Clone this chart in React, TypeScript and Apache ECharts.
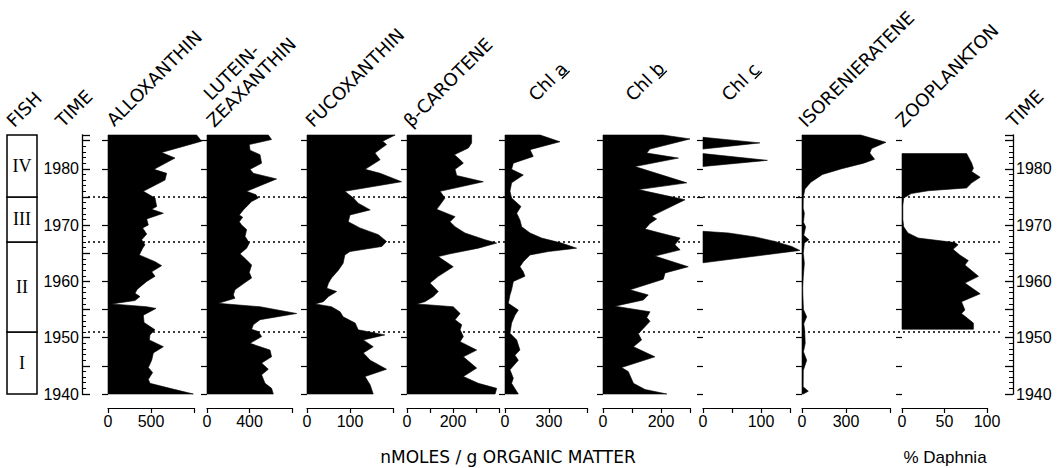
import React, { useEffect, useRef } from 'react';
import * as echarts from 'echarts';

// ---------------- data ----------------
const yearMin = 1940;
const yearMax = 1986;
const fishPeriodBounds = [1940, 1951, 1967, 1975, 1986];
const fishPeriodLabels = ['I', 'II', 'III', 'IV'];
const zoneDividerYears = [1975, 1967, 1951];
const timeTickLabels = [1940, 1950, 1960, 1970, 1980];
const panelTickYears = [1940, 1945, 1950, 1955, 1960, 1965, 1970, 1975, 1980, 1985];

const columnTitles = ['FISH', 'TIME', 'ALLOXANTHIN', 'LUTEIN-', 'ZEAXANTHIN', 'FUCOXANTHIN', 'β-CAROTENE', 'Chl a', 'Chl b', 'Chl c', 'ISORENIERATENE', 'ZOOPLANKTON', 'TIME'];
const pigmentUnitTitle = 'nMOLES / g ORGANIC MATTER';
const zooUnitTitle = '% Daphnia';

// [year, value]
const alloxanthin = [
  [1986.0, 1031], [1984.9, 1089], [1982.9, 624], [1981.9, 779], [1979.9, 535], [1979.2, 682], [1978.0, 663],
  [1976.0, 411], [1974.8, 547], [1973.3, 566], [1972.8, 508], [1972.1, 644], [1971.1, 450], [1970.0, 469],
  [1969.5, 403], [1968.4, 450], [1967.4, 392], [1966.5, 430], [1965.9, 403], [1964.7, 364], [1963.5, 547],
  [1962.8, 624], [1961.7, 508], [1960.9, 547], [1960.0, 450], [1958.6, 341], [1957.9, 314], [1957.3, 372],
  [1956.6, 314], [1956.0, 43], [1955.5, 450], [1955.2, 558], [1954.0, 411], [1952.7, 419], [1951.4, 547],
  [1950.5, 488], [1949.6, 481], [1948.4, 644], [1947.3, 527], [1946.0, 508], [1944.7, 469], [1943.8, 519],
  [1942.6, 469], [1941.9, 488], [1941.0, 721], [1940.0, 992],
];
const luteinZeaxanthin = [
  [1986.0, 577], [1985.2, 608], [1984.3, 398], [1983.3, 405], [1982.5, 499], [1981.0, 514], [1979.9, 405],
  [1979.2, 436], [1978.2, 655], [1976.0, 373], [1975.4, 461], [1974.8, 483], [1974.2, 420], [1972.7, 342],
  [1971.8, 304], [1971.4, 336], [1970.6, 304], [1970.0, 326], [1969.2, 373], [1968.0, 358], [1966.8, 398],
  [1965.9, 373], [1964.9, 311], [1963.8, 373], [1962.9, 420], [1961.6, 398], [1960.6, 420], [1959.8, 358],
  [1958.5, 263], [1957.6, 248], [1957.0, 263], [1956.1, 107], [1955.5, 499], [1954.3, 844], [1953.2, 499],
  [1952.3, 436], [1951.5, 420], [1951.1, 483], [1950.2, 514], [1949.0, 405], [1947.8, 593], [1946.6, 608],
  [1945.5, 514], [1944.4, 577], [1943.4, 514], [1941.9, 546], [1941.0, 608], [1940.0, 624],
];
const fucoxanthin = [
  [1986.0, 205], [1984.9, 176], [1984.3, 185], [1982.8, 158], [1981.6, 170], [1979.9, 135], [1979.2, 170],
  [1977.7, 220], [1976.0, 88], [1974.8, 108], [1973.9, 119], [1972.7, 147], [1971.8, 100], [1970.6, 96],
  [1969.5, 123], [1968.3, 166], [1967.1, 185], [1966.2, 174], [1965.3, 100], [1964.7, 88], [1963.2, 84],
  [1962.0, 73], [1960.6, 57], [1959.7, 50], [1958.8, 46], [1958.2, 69], [1957.3, 50], [1956.4, 38],
  [1956.0, 19], [1955.5, 57], [1954.6, 77], [1953.7, 84], [1952.6, 112], [1951.4, 119], [1950.5, 181],
  [1949.6, 131], [1948.4, 154], [1947.3, 131], [1946.0, 147], [1944.4, 185], [1943.1, 135], [1941.6, 147],
  [1940.0, 154],
];
const betaCarotene = [
  [1986.0, 281], [1984.6, 281], [1983.7, 267], [1982.5, 206], [1981.6, 231], [1981.0, 245], [1979.9, 209],
  [1978.8, 216], [1977.7, 332], [1976.0, 144], [1974.8, 165], [1973.6, 144], [1972.8, 129], [1971.5, 209],
  [1970.6, 187], [1969.7, 209], [1968.6, 252], [1967.4, 339], [1966.8, 390], [1965.9, 310], [1964.9, 187],
  [1964.4, 136], [1962.6, 201], [1960.9, 136], [1959.7, 100], [1958.2, 136], [1957.3, 114], [1956.4, 78],
  [1956.0, 42], [1955.5, 201], [1954.3, 231], [1953.2, 209], [1952.3, 238], [1951.4, 231], [1950.2, 245],
  [1949.3, 231], [1947.8, 303], [1946.6, 245], [1944.6, 303], [1943.1, 245], [1941.9, 310], [1941.0, 390],
  [1940.0, 383],
];
const chlA = [
  [1986.0, 240], [1984.8, 375], [1983.4, 171], [1982.2, 193], [1981.0, 57], [1979.9, 45], [1978.9, 125],
  [1977.5, 45], [1976.0, 34], [1974.8, 45], [1973.3, 109], [1972.1, 80], [1970.9, 102], [1969.7, 114],
  [1968.6, 171], [1967.7, 250], [1966.8, 386], [1965.9, 489], [1965.3, 296], [1964.7, 171], [1963.5, 125],
  [1962.6, 102], [1961.7, 125], [1960.9, 136], [1960.0, 57], [1958.5, 45], [1957.6, 34], [1956.1, 23],
  [1954.9, 91], [1954.0, 68], [1952.6, 45], [1950.8, 34], [1949.6, 80], [1947.8, 102], [1946.9, 68],
  [1946.0, 91], [1944.3, 34], [1942.8, 57], [1941.9, 45], [1940.0, 91],
];
const chlB = [
  [1986.0, 207], [1985.3, 300], [1983.5, 162], [1982.8, 151], [1981.9, 260], [1980.4, 110], [1977.5, 289],
  [1976.3, 122], [1974.5, 283], [1971.6, 168], [1971.1, 185], [1970.3, 162], [1969.3, 145], [1968.6, 197],
  [1967.7, 266], [1966.5, 248], [1965.6, 266], [1964.5, 179], [1962.6, 294], [1961.5, 214], [1960.4, 208],
  [1958.5, 93], [1957.6, 156], [1956.7, 139], [1955.6, 41], [1954.6, 162], [1953.6, 151], [1952.9, 162],
  [1950.7, 122], [1949.6, 133], [1948.4, 105], [1946.6, 179], [1944.7, 64], [1944.0, 87], [1941.9, 105],
  [1940.8, 145], [1940.0, 220],
];
const chlC1 = [[1985.6, 0], [1984.6, 98], [1983.5, 0]];
const chlC2 = [[1982.7, 0], [1981.5, 111], [1980.4, 0]];
const chlC3 = [[1968.9, 0], [1968.6, 44], [1967.9, 90], [1967.1, 124], [1966.2, 153], [1965.5, 167], [1963.3, 0]];
const isorenieratene = [
  [1986.0, 400], [1984.7, 572], [1983.6, 475], [1982.8, 462], [1981.7, 495], [1981.0, 420], [1980.0, 270],
  [1979.0, 140], [1977.6, 60], [1976.4, 20], [1975.0, 9], [1973.0, 8], [1972.1, 16], [1970.5, 10],
  [1969.7, 25], [1968.2, 12], [1967.4, 47], [1966.8, 16], [1965.0, 9], [1963.2, 16], [1960.9, 9],
  [1959.0, 5], [1957.5, 6], [1955.0, 10], [1953.7, 32], [1952.5, 12], [1951.4, 18], [1949.0, 22],
  [1947.5, 10], [1946.0, 32], [1944.2, 9], [1941.3, 8], [1940.5, 43], [1940.0, 9],
];
const zooplanktonDaphnia = [
  [1982.7, 76], [1981.0, 82], [1980.1, 84], [1979.5, 82], [1978.5, 92], [1977.5, 82], [1976.6, 76],
  [1976.1, 31], [1975.6, 11], [1974.8, 2], [1973.5, 1], [1971.0, 1], [1969.7, 2], [1968.6, 7], [1967.7, 19],
  [1966.9, 62], [1966.5, 66], [1965.7, 60], [1964.7, 68], [1963.7, 78], [1962.9, 74], [1960.9, 90],
  [1959.7, 74], [1957.8, 92], [1956.4, 70], [1954.9, 74], [1954.3, 70], [1952.6, 84], [1951.5, 84],
];

const panelProfiles = [
  [alloxanthin], [luteinZeaxanthin], [fucoxanthin], [betaCarotene], [chlA], [chlB],
  [chlC1, chlC2, chlC3], [isorenieratene], [zooplanktonDaphnia],
];
const panelAxisMax = [1000, 800, 200, 400, 560, 300, 150, 600, 100];
const panelTickStep = [500, 400, 100, 100, 300, 100, 50, 300, 50];
const panelTickLabels = [[0, 500], [0, 400], [0, 100], [0, 200], [0, 300], [0, 200], [0, 100], [0, 300], [0, 50, 100]];

// ---------------- layout (pixels) ----------------
const PLOT_TOP = 135;
const PLOT_H = 259;
const panelLeft = [108, 207, 307, 407, 505, 603, 703, 802, 902];
const panelWidth = [86, 85, 86, 92, 82, 87, 87, 88, 85];
const titlePos = [
  [16, 130], [65, 130], [116, 129], [213, 103], [216, 130], [315, 130], [413, 130],
  [538, 104], [635, 104], [731, 104], [808, 130], [905, 130], [1016, 130],
];
const underlineChar: Record<string, number[]> = {
  'Chl a': [34.7, 11],
  'Chl b': [34.7, 11.4],
  'Chl c': [34.7, 9.9],
};

const NUM_FONT = 'Liberation Sans';
const HEAD_FONT = 'DejaVu Sans';
const BLACK = '#000';

function buildOption() {
  const grid: any[] = [];
  const xAxis: any[] = [];
  const yAxis: any[] = [];
  const series: any[] = [];

  const hiddenY = (gi: number) => ({ gridIndex: gi, type: 'value', min: yearMin, max: yearMax, show: false });
  const hiddenX = (gi: number) => ({ gridIndex: gi, type: 'value', min: 0, max: 1, show: false });

  // 0: zone divider dotted lines
  grid.push({ left: 88, top: PLOT_TOP, width: 915, height: PLOT_H });
  xAxis.push(hiddenX(0));
  yAxis.push(hiddenY(0));
  series.push({
    type: 'custom', xAxisIndex: 0, yAxisIndex: 0, silent: true, z: 1,
    data: zoneDividerYears.map((y) => [0, y]),
    encode: { x: 0, y: 1 },
    renderItem: (_p: any, api: any) => {
      const y = api.value(1);
      const a = api.coord([0, y]);
      const b = api.coord([1, y]);
      return {
        type: 'line',
        shape: { x1: a[0], y1: a[1], x2: b[0], y2: b[1] },
        style: { stroke: BLACK, lineWidth: 1.6, lineDash: [2, 3] },
      };
    },
  });

  // 1: fish periods
  grid.push({ left: 7, top: PLOT_TOP, width: 30, height: PLOT_H });
  xAxis.push(hiddenX(1));
  yAxis.push(hiddenY(1));
  series.push({
    type: 'custom', xAxisIndex: 1, yAxisIndex: 1, silent: true, z: 2, clip: false,
    data: fishPeriodLabels.map((_, i) => [0, fishPeriodBounds[i], fishPeriodBounds[i + 1]]),
    encode: { x: 0, y: [1, 2] },
    renderItem: (params: any, api: any) => {
      const tl = api.coord([0, api.value(2)]);
      const br = api.coord([1, api.value(1)]);
      return {
        type: 'group',
        children: [
          {
            type: 'rect',
            shape: { x: tl[0], y: tl[1], width: br[0] - tl[0], height: br[1] - tl[1] },
            style: { fill: '#fff', stroke: BLACK, lineWidth: 1.5 },
          },
          {
            type: 'text',
            style: {
              text: fishPeriodLabels[params.dataIndex],
              x: (tl[0] + br[0]) / 2, y: (tl[1] + br[1]) / 2,
              textAlign: 'center', textVerticalAlign: 'middle', align: 'center', verticalAlign: 'middle',
              fontSize: 18, fontFamily: 'Liberation Serif', fill: BLACK,
            },
          },
        ],
      };
    },
  });

  // 2 & 3: time axes
  const timeAxis = (gi: number, pos: string) => ({
    gridIndex: gi, type: 'value', min: yearMin, max: yearMax, interval: 5, position: pos,
    axisLine: { show: true, onZero: false, lineStyle: { color: BLACK, width: 1.3 } },
    axisTick: { show: true, inside: true, length: 8, lineStyle: { color: BLACK, width: 1.3 } },
    minorTick: { show: true, splitNumber: 5, length: 4, lineStyle: { color: BLACK, width: 1 } },
    axisLabel: {
      show: true, margin: 3, color: BLACK, fontSize: 16, fontFamily: NUM_FONT,
      formatter: (v: number) => (timeTickLabels.includes(v) ? String(v) : ''),
    },
    splitLine: { show: false },
    minorSplitLine: { show: false },
  });
  grid.push({ left: 82, top: PLOT_TOP, width: 10, height: PLOT_H });
  xAxis.push(hiddenX(2));
  yAxis.push(timeAxis(2, 'left'));
  grid.push({ left: 1003, top: PLOT_TOP, width: 10, height: PLOT_H });
  xAxis.push(hiddenX(3));
  yAxis.push(timeAxis(3, 'right'));

  // pigment / zooplankton panels
  panelProfiles.forEach((segments, i) => {
    const gi = 4 + i;
    grid.push({ left: panelLeft[i], top: PLOT_TOP, width: panelWidth[i], height: PLOT_H });
    const shown = panelTickLabels[i];
    xAxis.push({
      gridIndex: gi, type: 'value', min: 0, max: panelAxisMax[i], interval: panelTickStep[i],
      position: 'bottom', offset: 14,
      axisLine: { show: true, onZero: false, lineStyle: { color: BLACK, width: 1.2 } },
      axisTick: { show: true, inside: false, length: 5, lineStyle: { color: BLACK, width: 1.2 } },
      axisLabel: {
        show: true, margin: 5, color: BLACK, fontSize: 16, fontFamily: NUM_FONT,
        formatter: (v: number) => (shown.includes(v) ? String(v) : ''),
      },
      splitLine: { show: false },
    });
    yAxis.push({
      gridIndex: gi, type: 'value', min: yearMin, max: yearMax, interval: 5,
      axisLine: { show: false, onZero: false },
      axisTick: { show: true, inside: false, length: 6, customValues: panelTickYears, lineStyle: { color: BLACK, width: 1.2 } },
      axisLabel: { show: false },
      splitLine: { show: false },
    });
    series.push({
      type: 'custom', xAxisIndex: gi, yAxisIndex: gi, silent: true, z: 3, clip: false,
      data: [[0, yearMin]],
      encode: { x: 0, y: 1 },
      renderItem: (_p: any, api: any) => {
        const children = segments.map((seg: number[][]) => {
          const pts = seg.map(([yr, v]) => api.coord([v, yr]));
          pts.unshift(api.coord([0, seg[0][0]]));
          pts.push(api.coord([0, seg[seg.length - 1][0]]));
          return { type: 'polygon', shape: { points: pts }, style: { fill: BLACK, stroke: BLACK, lineWidth: 0.6 } };
        });
        return { type: 'group', children };
      },
    });
  });

  // rotated column titles
  const graphic: any[] = columnTitles.map((t, i) => {
    const children: any[] = [
      {
        type: 'text',
        style: {
          text: t, x: 0, y: 0, fill: BLACK, fontSize: 18, fontFamily: HEAD_FONT,
          textAlign: 'left', textVerticalAlign: 'bottom', align: 'left', verticalAlign: 'bottom',
        },
      },
    ];
    const ul = underlineChar[t];
    if (ul) {
      children.push({
        type: 'line',
        shape: { x1: ul[0], y1: -1, x2: ul[0] + ul[1], y2: -1 },
        style: { stroke: BLACK, lineWidth: 1.3 },
      });
    }
    return { type: 'group', x: titlePos[i][0], y: titlePos[i][1], rotation: Math.PI / 4, children };
  });
  graphic.push({
    type: 'text', x: 508, y: 457,
    style: {
      text: pigmentUnitTitle, fill: BLACK, fontSize: 17, fontFamily: HEAD_FONT,
      textAlign: 'center', textVerticalAlign: 'middle', align: 'center', verticalAlign: 'middle',
    },
  });
  graphic.push({
    type: 'text', x: 945, y: 457,
    style: {
      text: zooUnitTitle, fill: BLACK, fontSize: 17, fontFamily: NUM_FONT,
      textAlign: 'center', textVerticalAlign: 'middle', align: 'center', verticalAlign: 'middle',
    },
  });

  return {
    animation: false,
    backgroundColor: '#fff',
    grid, xAxis, yAxis, series, graphic,
  };
}

export default function App() {
  const ref = useRef<HTMLDivElement>(null);
  useEffect(() => {
    if (!ref.current) return;
    const chart = echarts.init(ref.current, null, { renderer: 'svg' });
    chart.setOption(buildOption() as any);
    return () => chart.dispose();
  }, []);
  return (
    <div
      ref={ref}
      style={{ position: 'absolute', left: 0, top: 0, width: 1064, height: 468, background: '#fff' }}
    />
  );
}
